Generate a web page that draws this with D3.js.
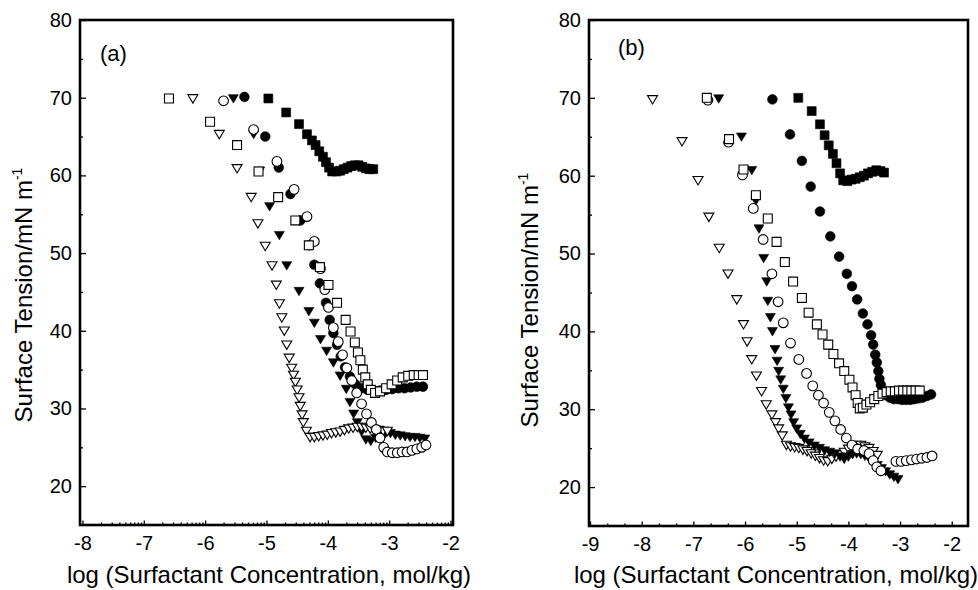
<!DOCTYPE html>
<html>
<head>
<meta charset="utf-8">
<script src="https://cdn.jsdelivr.net/npm/d3@7"></script>
<style>
  body { margin: 0; background: #fff; }
  svg { display: block; font-family: "Liberation Sans", Arial, sans-serif; }
</style>
</head>
<body>
<div id="chart"></div>
<script>
// tick labels
const xTicksA = [-8, -7, -6, -5, -4, -3, -2];
const xTicksB = [-9, -8, -7, -6, -5, -4, -3, -2];
const yTicks = [20, 30, 40, 50, 60, 70, 80];
const yMinorTicks = [25, 35, 45, 55, 65, 75];

// panel (a)  [log c, surface tension]
const aFilledSquare = [[-4.97,69.9],[-4.68,68.1],[-4.47,66.6],[-4.34,65.3],[-4.26,64.5],[-4.20,63.9],[-4.14,63.1],[-4.08,62.4],[-4.03,61.7],[-3.98,61.0],[-3.93,60.5],[-3.86,60.5],[-3.80,60.6],[-3.74,60.8],[-3.68,61.0],[-3.62,61.2],[-3.56,61.3],[-3.50,61.3],[-3.44,61.1],[-3.38,60.9],[-3.32,60.8],[-3.26,60.8]];
const aFilledCircle = [[-5.36,70.1],[-5.02,65.0],[-4.80,61.0],[-4.61,57.6],[-4.45,54.2],[-4.30,51.0],[-4.22,48.5],[-4.13,46.1],[-4.03,43.6],[-3.97,41.4],[-3.91,39.7],[-3.85,38.2],[-3.79,36.7],[-3.72,35.3],[-3.64,34.1],[-3.55,33.1],[-3.45,32.6],[-3.35,32.4],[-3.25,32.3],[-3.15,32.3],[-3.05,32.4],[-2.95,32.5],[-2.85,32.6],[-2.75,32.6],[-2.65,32.7],[-2.55,32.8],[-2.45,32.8]];
const aOpenCircle = [[-5.70,69.6],[-5.21,65.9],[-4.83,61.8],[-4.55,58.2],[-4.34,54.7],[-4.22,51.5],[-4.12,48.0],[-4.05,45.3],[-3.99,43.0],[-3.91,40.4],[-3.83,38.6],[-3.76,36.9],[-3.69,35.2],[-3.61,33.6],[-3.53,32.0],[-3.45,30.6],[-3.37,29.3],[-3.29,28.2],[-3.21,27.3],[-3.15,26.2],[-3.09,25.0],[-3.03,24.4],[-2.95,24.3],[-2.87,24.3],[-2.79,24.4],[-2.71,24.4],[-2.63,24.6],[-2.55,24.8],[-2.47,25.0],[-2.40,25.3]];
const aFilledTriangle = [[-5.54,69.9],[-5.21,65.3],[-5.11,60.6],[-4.95,56.0],[-4.79,52.3],[-4.67,48.4],[-4.47,45.1],[-4.31,42.5],[-4.22,41.0],[-4.12,38.9],[-4.02,37.4],[-3.91,35.9],[-3.80,34.2],[-3.70,32.5],[-3.64,30.8],[-3.58,29.3],[-3.52,28.2],[-3.45,27.0],[-3.38,26.0],[-3.30,25.8],[-3.22,26.2],[-3.14,26.6],[-3.06,26.8],[-2.98,26.8],[-2.90,26.6],[-2.82,26.5],[-2.74,26.4],[-2.66,26.3],[-2.58,26.3],[-2.50,26.2],[-2.42,26.1]];
const aOpenSquare = [[-6.59,69.9],[-5.92,66.9],[-5.48,63.9],[-5.13,60.5],[-4.81,57.2],[-4.53,54.2],[-4.31,51.0],[-4.13,48.2],[-3.99,45.9],[-3.85,43.6],[-3.71,41.4],[-3.63,39.9],[-3.56,38.5],[-3.51,37.2],[-3.47,36.2],[-3.43,35.0],[-3.39,34.0],[-3.35,33.1],[-3.30,32.4],[-3.23,32.0],[-3.15,32.2],[-3.05,32.6],[-2.96,33.1],[-2.87,33.6],[-2.78,34.0],[-2.69,34.2],[-2.60,34.3],[-2.52,34.3],[-2.45,34.3]];
const aOpenTriangle = [[-6.20,69.9],[-5.77,65.3],[-5.48,60.9],[-5.25,57.2],[-5.14,53.8],[-5.02,50.9],[-4.91,48.4],[-4.84,45.9],[-4.79,43.5],[-4.75,41.7],[-4.71,40.0],[-4.67,38.2],[-4.63,36.5],[-4.59,35.2],[-4.56,34.3],[-4.53,33.4],[-4.50,32.4],[-4.47,31.4],[-4.45,30.3],[-4.42,29.2],[-4.40,28.2],[-4.35,27.1],[-4.29,26.3],[-4.22,26.3],[-4.15,26.4],[-4.08,26.5],[-4.01,26.6],[-3.94,26.8],[-3.87,26.9],[-3.80,27.0],[-3.73,27.2],[-3.66,27.4],[-3.59,27.5],[-3.52,27.6],[-3.45,27.6],[-3.38,27.5],[-3.31,27.4],[-3.24,27.3],[-3.17,27.2],[-3.10,27.1],[-3.03,27.1]];

// panel (b)
const bFilledSquare = [[-4.97,70.0],[-4.71,68.3],[-4.55,66.6],[-4.46,65.2],[-4.38,63.9],[-4.30,62.8],[-4.23,61.6],[-4.16,60.3],[-4.10,59.4],[-4.02,59.3],[-3.94,59.5],[-3.86,59.6],[-3.78,59.8],[-3.70,60.0],[-3.62,60.3],[-3.54,60.5],[-3.46,60.7],[-3.38,60.6],[-3.31,60.4]];
const bFilledCircle = [[-5.47,69.8],[-5.13,65.3],[-4.90,61.9],[-4.73,58.6],[-4.55,55.4],[-4.35,52.2],[-4.18,49.6],[-4.03,47.4],[-3.93,45.8],[-3.83,44.1],[-3.72,42.3],[-3.63,40.9],[-3.56,39.5],[-3.52,38.3],[-3.48,37.0],[-3.45,36.0],[-3.42,34.9],[-3.40,33.9],[-3.37,33.1],[-3.33,32.3],[-3.27,31.8],[-3.20,31.5],[-3.12,31.3],[-3.04,31.3],[-2.96,31.2],[-2.88,31.2],[-2.80,31.2],[-2.72,31.3],[-2.64,31.4],[-2.56,31.5],[-2.48,31.7],[-2.40,31.9]];
const bOpenSquare = [[-6.74,70.0],[-6.31,64.7],[-6.03,60.8],[-5.79,57.5],[-5.56,54.5],[-5.39,51.5],[-5.23,48.9],[-5.07,46.4],[-4.90,44.3],[-4.77,42.4],[-4.61,40.9],[-4.50,39.6],[-4.39,38.3],[-4.29,37.1],[-4.18,35.9],[-4.08,34.9],[-3.98,33.8],[-3.92,32.8],[-3.86,31.8],[-3.82,30.8],[-3.78,30.1],[-3.72,30.2],[-3.65,30.6],[-3.58,30.9],[-3.50,31.3],[-3.42,31.7],[-3.34,32.0],[-3.26,32.2],[-3.18,32.3],[-3.10,32.3],[-3.02,32.4],[-2.94,32.4],[-2.86,32.4],[-2.78,32.4],[-2.70,32.4],[-2.62,32.4]];
const bOpenCircle = [[-6.72,69.7],[-6.32,64.3],[-6.05,60.1],[-5.84,55.8],[-5.65,51.8],[-5.48,47.4],[-5.36,43.8],[-5.26,41.1],[-5.12,38.5],[-4.96,36.4],[-4.81,34.6],[-4.69,33.0],[-4.58,31.8],[-4.48,30.8],[-4.37,29.6],[-4.26,28.5],[-4.15,27.4],[-4.04,26.3],[-3.93,25.4],[-3.82,24.9],[-3.70,24.7],[-3.60,24.3],[-3.52,23.4],[-3.45,22.6],[-3.37,22.1],[-3.08,23.3],[-2.98,23.3],[-2.88,23.4],[-2.78,23.5],[-2.68,23.6],[-2.58,23.7],[-2.48,23.8],[-2.38,24.0]];
const bFilledTriangle = [[-6.51,69.9],[-6.07,65.0],[-5.87,60.7],[-5.79,56.8],[-5.73,53.2],[-5.64,49.4],[-5.58,46.4],[-5.56,43.9],[-5.51,41.8],[-5.47,40.0],[-5.42,37.7],[-5.38,36.2],[-5.35,34.9],[-5.31,33.8],[-5.26,32.6],[-5.21,31.4],[-5.16,30.2],[-5.11,29.3],[-5.06,28.3],[-5.00,27.5],[-4.93,26.8],[-4.85,26.2],[-4.76,25.7],[-4.66,25.3],[-4.56,25.0],[-4.46,24.7],[-4.36,24.5],[-4.26,24.3],[-4.16,23.9],[-4.08,23.6],[-4.00,23.9],[-3.92,24.2],[-3.84,24.3],[-3.76,24.2],[-3.68,24.0],[-3.60,23.7],[-3.52,23.2],[-3.44,22.8],[-3.36,22.4],[-3.28,22.0],[-3.20,21.6],[-3.12,21.3],[-3.04,21.0]];
const bOpenTriangle = [[-7.79,69.8],[-7.22,64.4],[-6.91,59.4],[-6.70,54.7],[-6.50,50.7],[-6.33,47.4],[-6.16,44.1],[-6.03,40.9],[-5.96,38.7],[-5.87,36.4],[-5.78,34.3],[-5.68,32.3],[-5.59,30.6],[-5.48,29.3],[-5.41,28.3],[-5.35,27.5],[-5.28,26.6],[-5.20,25.4],[-5.12,25.2],[-5.04,25.1],[-4.96,25.0],[-4.88,24.8],[-4.80,24.6],[-4.72,24.3],[-4.64,24.0],[-4.56,23.7],[-4.48,23.4],[-4.40,23.3],[-4.32,23.6],[-4.24,23.9],[-4.16,24.2],[-4.08,24.5],[-4.00,24.9],[-3.92,25.2],[-3.84,25.4],[-3.76,25.4],[-3.68,25.2],[-3.60,25.0],[-3.52,24.6],[-3.44,24.1]];

const width = 978, height = 590;

const svg = d3.select("#chart").append("svg")
  .attr("width", width)
  .attr("height", height);

// marker shapes
const shapePath = {
  square: d3.symbol(d3.symbolSquare, 80)(),
  circle: d3.symbol(d3.symbolCircle, 74)(),
  triangle: "M-5,-3.8L5,-3.8L0,4.6Z"
};

function drawPanel(cfg) {
  const x = d3.scaleLinear().domain(cfg.xDomain).range([cfg.left, cfg.right]);
  const y = d3.scaleLinear().domain([15, 80]).range([cfg.bottom, cfg.top]);
  const g = svg.append("g");

  // points, back to front
  cfg.series.forEach(s => {
    g.append("g").selectAll("path")
      .data(s.data)
      .join("path")
      .attr("transform", d => `translate(${x(d[0])},${y(d[1])})`)
      .attr("d", shapePath[s.shape])
      .attr("fill", s.filled ? "#000" : "#fff")
      .attr("stroke", "#000")
      .attr("stroke-width", s.filled ? 0.6 : 1.1);
  });

  // x axis (ticks inward), plain hyphen minus like the original
  g.append("g").attr("transform", `translate(0,${cfg.bottom})`)
    .call(d3.axisBottom(x).tickValues(cfg.xTicks).tickSize(-4.5).tickSizeOuter(0).tickPadding(11).tickFormat(d => String(d)));
  g.append("g").attr("transform", `translate(0,${cfg.bottom})`)
    .call(d3.axisBottom(x).tickValues(cfg.xMinor).tickSize(-2.5).tickSizeOuter(0).tickFormat(""));

  // y axis
  g.append("g").attr("transform", `translate(${cfg.left},0)`)
    .call(d3.axisLeft(y).tickValues(yTicks).tickSize(-6).tickSizeOuter(0).tickPadding(8));
  g.append("g").attr("transform", `translate(${cfg.left},0)`)
    .call(d3.axisLeft(y).tickValues(yMinorTicks).tickSize(-3).tickSizeOuter(0).tickFormat(""));

  g.selectAll(".domain").remove();
  g.selectAll(".tick line").attr("stroke", "#000").attr("stroke-width", 1.3);
  g.selectAll(".tick text").attr("font-size", 20).attr("fill", "#000")
    .attr("font-family", "'Liberation Sans', Arial, sans-serif");

  // frame
  g.append("rect")
    .attr("x", cfg.left).attr("y", cfg.top)
    .attr("width", cfg.right - cfg.left).attr("height", cfg.bottom - cfg.top)
    .attr("fill", "none").attr("stroke", "#000").attr("stroke-width", 2.6);

  // titles
  g.append("text")
    .attr("x", cfg.xTitleX).attr("y", 583)
    .attr("text-anchor", "middle")
    .attr("font-size", 24)
    .text("log (Surfactant Concentration, mol/kg)");

  const yt = g.append("text")
    .attr("transform", `translate(${cfg.yTitleX},${cfg.yTitleY}) rotate(-90)`)
    .attr("text-anchor", "middle")
    .attr("font-size", 24);
  yt.append("tspan").text("Surface Tension/mN m");
  yt.append("tspan").attr("font-size", 14).attr("dy", -10).text("-1");

  g.append("text")
    .attr("x", cfg.labelX).attr("y", cfg.labelY)
    .attr("font-size", 22)
    .text(cfg.label);
}

// log-style minor ticks for (a), thirds for (b)
const minorA = [];
for (let d = -8; d < -2; d++) for (let k = 2; k <= 9; k++) minorA.push(d + Math.log10(k));
const minorB = [];
for (let d = -9; d < -2; d++) { minorB.push(d + 1 / 3); minorB.push(d + 2 / 3); }

drawPanel({
  left: 80, right: 453, top: 20, bottom: 525,
  xDomain: [-8.04, -1.96], xTicks: xTicksA, xMinor: minorA,
  xTitleX: 269, yTitleX: 32, yTitleY: 295,
  label: "(a)", labelX: 100, labelY: 61,
  series: [
    { data: aFilledSquare, shape: "square", filled: true },
    { data: aFilledCircle, shape: "circle", filled: true },
    { data: aFilledTriangle, shape: "triangle", filled: true },
    { data: aOpenTriangle, shape: "triangle", filled: false },
    { data: aOpenCircle, shape: "circle", filled: false },
    { data: aOpenSquare, shape: "square", filled: false }
  ]
});

drawPanel({
  left: 589, right: 968, top: 20, bottom: 526,
  xDomain: [-9.02, -1.685], xTicks: xTicksB, xMinor: minorB,
  xTitleX: 776, yTitleX: 538, yTitleY: 300,
  label: "(b)", labelX: 618, labelY: 55,
  series: [
    { data: bFilledSquare, shape: "square", filled: true },
    { data: bFilledCircle, shape: "circle", filled: true },
    { data: bOpenTriangle, shape: "triangle", filled: false },
    { data: bFilledTriangle, shape: "triangle", filled: true },
    { data: bOpenCircle, shape: "circle", filled: false },
    { data: bOpenSquare, shape: "square", filled: false }
  ]
});
</script>
</body>
</html>
